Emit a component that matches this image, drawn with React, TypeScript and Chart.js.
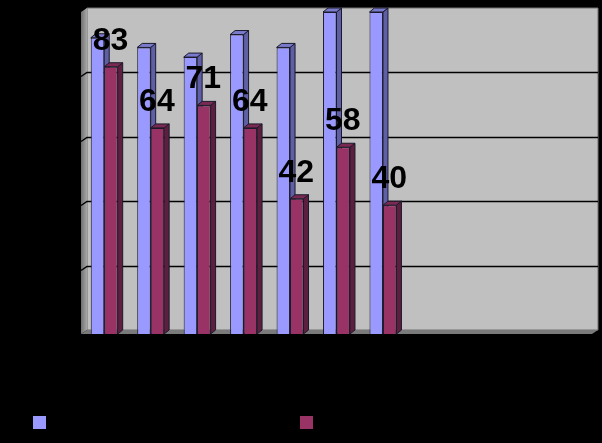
import React, { useEffect, useRef } from "react";
import { Chart, registerables } from "chart.js";

Chart.register(...registerables);

const categories = ["1", "2", "3", "4", "5", "6", "7", "", "", "", ""];
const blueValues = [92, 89, 86, 93, 89, 100, 100];
const redValues = [83, 64, 71, 64, 42, 58, 40];
const yTicks = [0, 20, 40, 60, 80, 100];

const BLUE = "#9999FF";
const RED = "#993366";
const faces: Record<string, { side: string; top: string }> = {
  [BLUE]: { side: "#5F5FA8", top: "#7A7ACC" },
  [RED]: { side: "#5E1F3F", top: "#7A2952" },
};
const DX = 5;
const DY = 4;
const WALL_DX = 6;
const WALL_DY = 4;

function poly(ctx: CanvasRenderingContext2D, pts: number[][], fill: any, stroke?: string) {
  ctx.beginPath();
  pts.forEach(([x, y], i) => (i ? ctx.lineTo(x, y) : ctx.moveTo(x, y)));
  ctx.closePath();
  ctx.fillStyle = fill;
  ctx.fill();
  if (stroke) {
    ctx.strokeStyle = stroke;
    ctx.lineWidth = 1;
    ctx.stroke();
  }
}

function drawFaces(chart: any, index: number) {
  const { ctx } = chart;
  const f = faces[chart.data.datasets[index].backgroundColor];
  ctx.save();
  chart.getDatasetMeta(index).data.forEach((bar: any) => {
    const l = bar.x - bar.width / 2;
    const r = bar.x + bar.width / 2;
    poly(ctx, [[r, bar.y], [r + DX, bar.y - DY], [r + DX, bar.base - DY], [r, bar.base]], f.side, "#1a1a2a");
    poly(ctx, [[l, bar.y], [l + DX, bar.y - DY], [r + DX, bar.y - DY], [r, bar.y]], f.top, "#1a1a2a");
  });
  ctx.restore();
}

const scene3d = {
  id: "scene3d",
  beforeDatasetsDraw(chart: any) {
    const { ctx, chartArea: a, scales } = chart;
    const y = scales.y;
    ctx.save();
    poly(ctx, [[a.left + WALL_DX, a.top - WALL_DY], [a.right + WALL_DX, a.top - WALL_DY], [a.right + WALL_DX, a.bottom - WALL_DY], [a.left + WALL_DX, a.bottom - WALL_DY]], "#C0C0C0", "#707070");
    const sideGrad = ctx.createLinearGradient(a.left, 0, a.left + WALL_DX, 0);
    sideGrad.addColorStop(0, "#707070");
    sideGrad.addColorStop(1, "#A8A8A8");
    poly(ctx, [[a.left, a.top], [a.left + WALL_DX, a.top - WALL_DY], [a.left + WALL_DX, a.bottom - WALL_DY], [a.left, a.bottom]], sideGrad);
    poly(ctx, [[a.left, a.bottom], [a.left + WALL_DX, a.bottom - WALL_DY], [a.right + WALL_DX, a.bottom - WALL_DY], [a.right, a.bottom]], "#7A7A7A");
    ctx.strokeStyle = "#000000";
    ctx.lineWidth = 1.5;
    yTicks.slice(1, -1).forEach((t) => {
      const py = Math.round(y.getPixelForValue(t)) + 0.5;
      ctx.beginPath();
      ctx.moveTo(a.left, py);
      ctx.lineTo(a.left + WALL_DX, py - WALL_DY);
      ctx.lineTo(a.right + WALL_DX, py - WALL_DY);
      ctx.stroke();
    });
    ctx.restore();
  },
  // Chart.js paints the last dataset first; the second series has to sit in front of the first.
  beforeDatasetDraw(chart: any, args: any) {
    if (args.index === 1) return false;
    drawFaces(chart, 0);
    return true;
  },
  afterDatasetDraw(chart: any, args: any) {
    if (args.index !== 0) return;
    drawFaces(chart, 1);
    chart.getDatasetMeta(1).controller.draw();
  },
  afterDatasetsDraw(chart: any) {
    const { ctx } = chart;
    ctx.save();
    ctx.fillStyle = "#000000";
    ctx.font = "bold 32px 'Liberation Sans'";
    ctx.textAlign = "center";
    ctx.textBaseline = "middle";
    chart.getDatasetMeta(1).data.forEach((bar: any, i: number) => {
      ctx.fillText(String(redValues[i]), bar.x - 0.5, bar.y - 26);
    });
    [[33, 0], [300, 1]].forEach(([x, i]) => {
      ctx.fillStyle = chart.data.datasets[i].backgroundColor;
      ctx.fillRect(x, 416, 13, 13);
    });
    ctx.restore();
  },
};

export default function App() {
  const ref = useRef<HTMLCanvasElement>(null);
  useEffect(() => {
    const chart = new Chart(ref.current!, {
      type: "bar",
      data: {
        labels: categories,
        datasets: [
          { data: blueValues, backgroundColor: BLUE, borderColor: "#1a1a2a", borderWidth: 1, categoryPercentage: 0.58, barPercentage: 1 },
          { data: redValues, backgroundColor: RED, borderColor: "#1a1a2a", borderWidth: 1, categoryPercentage: 0.58, barPercentage: 1 },
        ],
      },
      options: {
        animation: false,
        responsive: false,
        devicePixelRatio: 1,
        layout: { padding: { left: 0, top: 12, right: 10, bottom: 109 } },
        plugins: { legend: { display: false }, tooltip: { enabled: false } },
        scales: {
          x: {
            border: { display: false },
            grid: { display: false },
            ticks: { display: false },
            afterFit: (s: any) => { s.height = 0; },
          },
          y: {
            min: 0,
            max: 100,
            border: { display: false },
            grid: { display: false },
            ticks: { stepSize: 20, color: "#000000", font: { family: "Liberation Sans", size: 12 } },
            afterFit: (s: any) => { s.width = 81; },
          },
        },
      } as any,
      plugins: [scene3d],
    });
    return () => chart.destroy();
  }, []);
  return (
    <div style={{ position: "fixed", left: 0, top: 0, width: 602, height: 443, background: "#000000" }}>
      <canvas ref={ref} width={602} height={443} style={{ display: "block" }} />
    </div>
  );
}
